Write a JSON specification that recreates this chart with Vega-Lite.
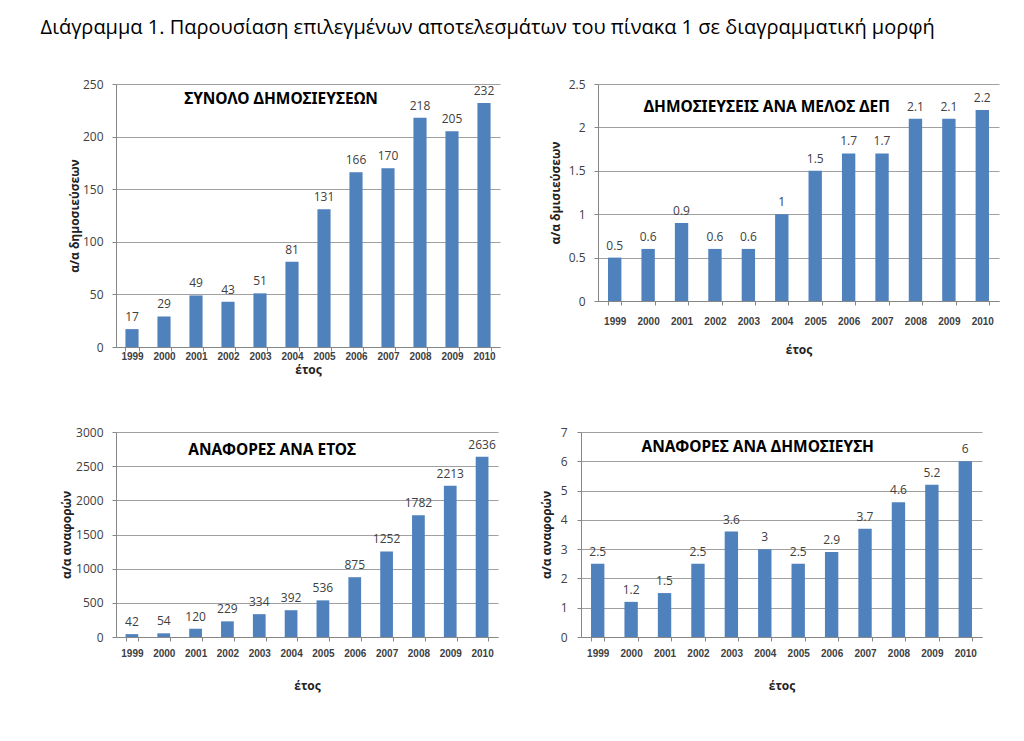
{
  "$schema": "https://vega.github.io/schema/vega-lite/v6.json",
  "padding": {"left": 40, "top": 18, "right": 5, "bottom": 5},
  "background": "white",
  "title": {"text": "Διάγραμμα 1. Παρουσίαση επιλεγμένων αποτελεσμάτων του πίνακα 1 σε διαγραμματική μορφή", "anchor": "start", "dx": -20, "fontSize": 20, "fontWeight": "normal", "font": "Open Sans", "color": "#000000", "offset": 40},
  "config": {
    "font": "Open Sans",
    "view": {"stroke": null},
    "axis": {"gridColor": "#a0a0a0", "gridOpacity": 1, "domainColor": "#868686", "tickColor": "#868686", "tickSize": 4, "labelColor": "#404040", "titleColor": "#222222", "titleFontWeight": "bold", "titleFontSize": 12, "titleFont": "Open Sans"},
    "axisX": {"labelAngle": 0, "labelFont": "Liberation Sans", "labelFontWeight": "bold", "labelFontSize": 10, "grid": false, "tickBand": "extent"},
    "axisY": {"labelFontSize": 12, "domain": true, "grid": true},
    "text": {"font": "Open Sans"}
  },
  "datasets": {
    "p1": [
      {"year": "1999", "v": 17}, {"year": "2000", "v": 29}, {"year": "2001", "v": 49}, {"year": "2002", "v": 43},
      {"year": "2003", "v": 51}, {"year": "2004", "v": 81}, {"year": "2005", "v": 131}, {"year": "2006", "v": 166},
      {"year": "2007", "v": 170}, {"year": "2008", "v": 218}, {"year": "2009", "v": 205}, {"year": "2010", "v": 232}
    ],
    "p2": [
      {"year": "1999", "v": 0.5}, {"year": "2000", "v": 0.6}, {"year": "2001", "v": 0.9}, {"year": "2002", "v": 0.6},
      {"year": "2003", "v": 0.6}, {"year": "2004", "v": 1}, {"year": "2005", "v": 1.5}, {"year": "2006", "v": 1.7},
      {"year": "2007", "v": 1.7}, {"year": "2008", "v": 2.1}, {"year": "2009", "v": 2.1}, {"year": "2010", "v": 2.2}
    ],
    "p3": [
      {"year": "1999", "v": 42}, {"year": "2000", "v": 54}, {"year": "2001", "v": 120}, {"year": "2002", "v": 229},
      {"year": "2003", "v": 334}, {"year": "2004", "v": 392}, {"year": "2005", "v": 536}, {"year": "2006", "v": 875},
      {"year": "2007", "v": 1252}, {"year": "2008", "v": 1782}, {"year": "2009", "v": 2213}, {"year": "2010", "v": 2636}
    ],
    "p4": [
      {"year": "1999", "v": 2.5}, {"year": "2000", "v": 1.2}, {"year": "2001", "v": 1.5}, {"year": "2002", "v": 2.5},
      {"year": "2003", "v": 3.6}, {"year": "2004", "v": 3}, {"year": "2005", "v": 2.5}, {"year": "2006", "v": 2.9},
      {"year": "2007", "v": 3.7}, {"year": "2008", "v": 4.6}, {"year": "2009", "v": 5.2}, {"year": "2010", "v": 6}
    ],
    "titles": [
      {"panel": "p1", "year": "2004", "v": 235.7, "t": "ΣΥΝΟΛΟ ΔΗΜΟΣΙΕΥΣΕΩΝ"},
      {"panel": "p2", "year": "2004", "v": 2.23, "t": "ΔΗΜΟΣΙΕΥΣΕΙΣ ΑΝΑ ΜΕΛΟΣ ΔΕΠ"},
      {"panel": "p3", "year": "2004", "v": 2741, "t": "ΑΝΑΦΟΡΕΣ ΑΝΑ ΕΤΟΣ"},
      {"panel": "p4", "year": "2004", "v": 6.5, "t": "ΑΝΑΦΟΡΕΣ ΑΝΑ ΔΗΜΟΣΙΕΥΣΗ"}
    ]
  },
  "vconcat": [
    {
      "hconcat": [
        {
          "width": 384, "height": 263,
          "encoding": {
            "x": {"field": "year", "type": "ordinal", "scale": {"paddingInner": 0.59, "paddingOuter": 0.295}, "axis": {"title": "έτος", "labelPadding": 0, "titlePadding": 3}},
            "y": {"field": "v", "type": "quantitative", "scale": {"domain": [0, 250]}, "axis": {"title": "α/α δημοσιεύσεων", "format": "d", "values": [0, 50, 100, 150, 200, 250], "labelPadding": 9, "titlePadding": 1}}
          },
          "layer": [
            {"data": {"name": "p1"}, "mark": {"type": "bar", "color": "#4F81BD"}},
            {"data": {"name": "p1"}, "mark": {"type": "text", "baseline": "bottom", "dy": -5, "fontSize": 12, "color": "#404040"}, "encoding": {"text": {"field": "v", "type": "quantitative"}}},
            {"data": {"name": "titles"}, "transform": [{"filter": "datum.panel === 'p1'"}], "mark": {"type": "text", "font": "Noto Sans", "fontWeight": "bold", "fontSize": 15.5, "color": "#000000", "dx": -11}, "encoding": {"text": {"field": "t"}}}
          ]
        },
        {
          "width": 401, "height": 217,
          "encoding": {
            "x": {"field": "year", "type": "ordinal", "scale": {"paddingInner": 0.6, "paddingOuter": 0.3}, "axis": {"title": "έτος", "labelPadding": 11, "titlePadding": 18}},
            "y": {"field": "v", "type": "quantitative", "scale": {"domain": [0, 2.5]}, "axis": {"title": "α/α δμισιεύσεων", "format": "~g", "values": [0, 0.5, 1, 1.5, 2, 2.5], "labelPadding": 9, "titlePadding": 6}}
          },
          "layer": [
            {"data": {"name": "p2"}, "mark": {"type": "bar", "color": "#4F81BD"}},
            {"data": {"name": "p2"}, "mark": {"type": "text", "baseline": "bottom", "dy": -5, "fontSize": 12, "color": "#404040"}, "encoding": {"text": {"field": "v", "type": "quantitative"}}},
            {"data": {"name": "titles"}, "transform": [{"filter": "datum.panel === 'p2'"}], "mark": {"type": "text", "font": "Noto Sans", "fontWeight": "bold", "fontSize": 15.5, "color": "#000000", "dx": -15}, "encoding": {"text": {"field": "t"}}}
          ]
        }
      ],
      "spacing": 49
    },
    {
      "hconcat": [
        {
          "width": 382, "height": 205,
          "encoding": {
            "x": {"field": "year", "type": "ordinal", "scale": {"paddingInner": 0.6, "paddingOuter": 0.3}, "axis": {"title": "έτος", "labelPadding": 7, "titlePadding": 22}},
            "y": {"field": "v", "type": "quantitative", "scale": {"domain": [0, 3000]}, "axis": {"title": "α/α αναφορών", "format": "d", "values": [0, 500, 1000, 1500, 2000, 2500, 3000], "labelPadding": 9, "titlePadding": 2}}
          },
          "layer": [
            {"data": {"name": "p3"}, "mark": {"type": "bar", "color": "#4F81BD"}},
            {"data": {"name": "p3"}, "mark": {"type": "text", "baseline": "bottom", "dy": -5, "fontSize": 12, "color": "#404040"}, "encoding": {"text": {"field": "v", "type": "quantitative"}}},
            {"data": {"name": "titles"}, "transform": [{"filter": "datum.panel === 'p3'"}], "mark": {"type": "text", "font": "Noto Sans", "fontWeight": "bold", "fontSize": 15.5, "color": "#000000", "dx": -19}, "encoding": {"text": {"field": "t"}}}
          ]
        },
        {
          "width": 401, "height": 205,
          "encoding": {
            "x": {"field": "year", "type": "ordinal", "scale": {"paddingInner": 0.6, "paddingOuter": 0.3}, "axis": {"title": "έτος", "labelPadding": 7, "titlePadding": 22}},
            "y": {"field": "v", "type": "quantitative", "scale": {"domain": [0, 7]}, "axis": {"title": "α/α αναφορών", "format": "d", "values": [0, 1, 2, 3, 4, 5, 6, 7], "labelPadding": 10, "titlePadding": 7}}
          },
          "layer": [
            {"data": {"name": "p4"}, "mark": {"type": "bar", "color": "#4F81BD"}},
            {"data": {"name": "p4"}, "mark": {"type": "text", "baseline": "bottom", "dy": -5, "fontSize": 12, "color": "#404040"}, "encoding": {"text": {"field": "v", "type": "quantitative"}}},
            {"data": {"name": "titles"}, "transform": [{"filter": "datum.panel === 'p4'"}], "mark": {"type": "text", "font": "Noto Sans", "fontWeight": "bold", "fontSize": 15.5, "color": "#000000", "dx": -7}, "encoding": {"text": {"field": "t"}}}
          ]
        }
      ],
      "spacing": 42
    }
  ],
  "spacing": 51
}
